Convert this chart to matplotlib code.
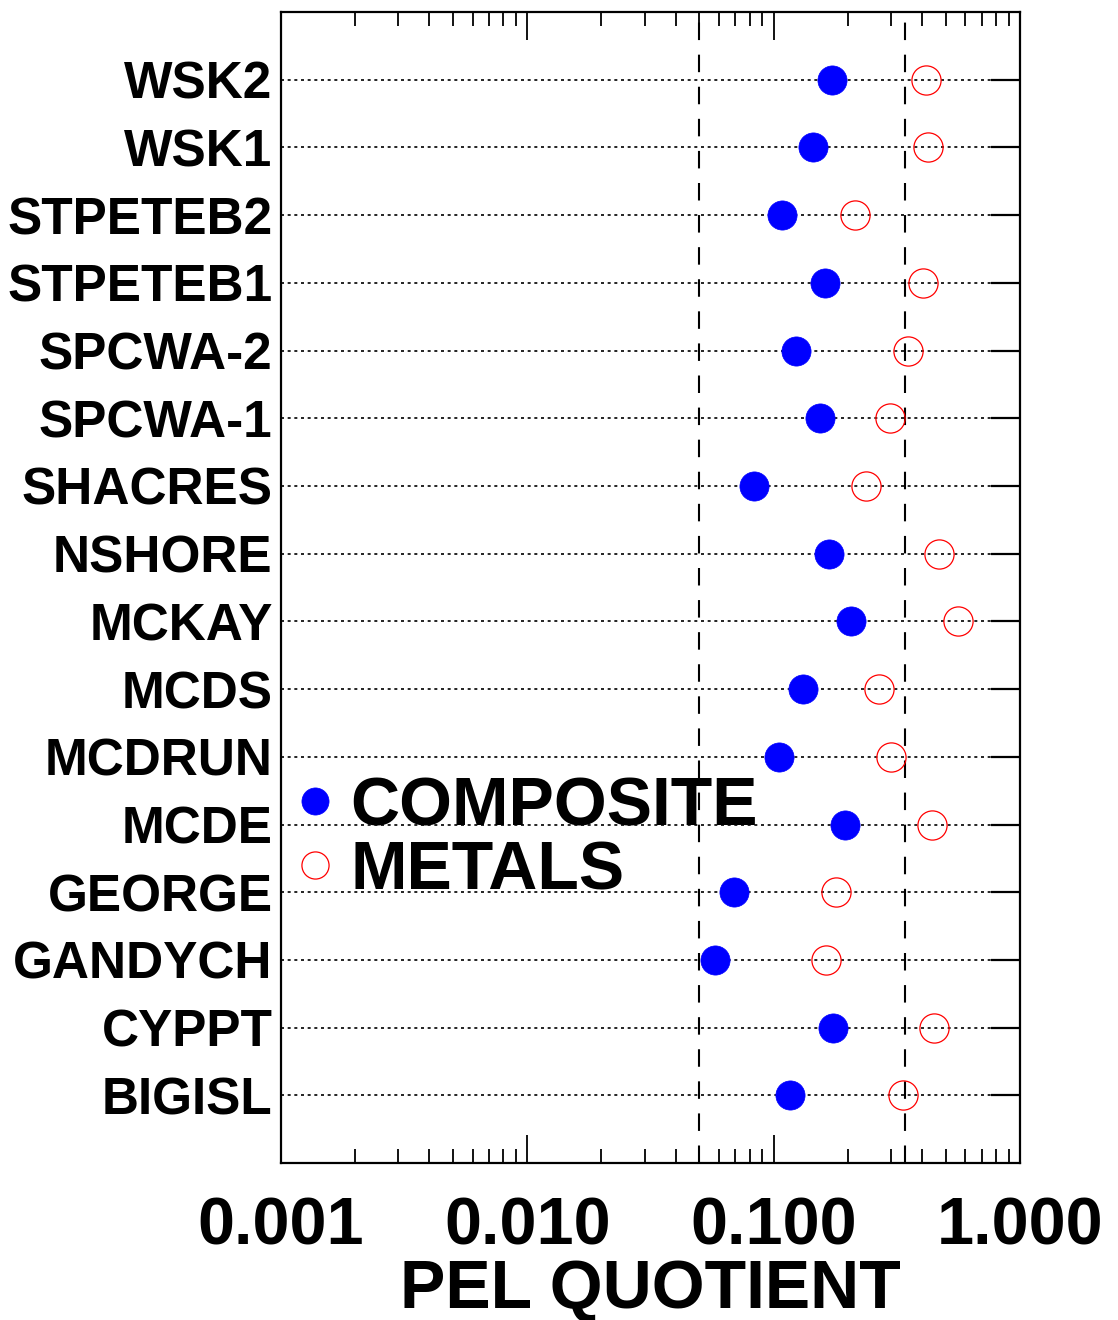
import matplotlib
matplotlib.use("Agg")
import matplotlib.pyplot as plt
from matplotlib.ticker import LogLocator, FixedLocator, NullFormatter, FixedFormatter

plt.rcParams['font.family'] = ['Liberation Sans', 'DejaVu Sans']
plt.rcParams['font.weight'] = 'bold'

# Stations, listed bottom to top
stations = ["BIGISL", "CYPPT", "GANDYCH", "GEORGE", "MCDE", "MCDRUN", "MCDS",
            "MCKAY", "NSHORE", "SHACRES", "SPCWA-1", "SPCWA-2", "STPETEB1",
            "STPETEB2", "WSK1", "WSK2"]
composite = [0.117, 0.174, 0.058, 0.069, 0.195, 0.105, 0.132,
             0.206, 0.168, 0.083, 0.154, 0.123, 0.162,
             0.108, 0.145, 0.173]
metals = [0.335, 0.448, 0.163, 0.179, 0.440, 0.300, 0.268,
          0.561, 0.470, 0.237, 0.297, 0.351, 0.404,
          0.214, 0.424, 0.416]
thresholds = [0.05, 0.34]
x_ticks = [0.001, 0.01, 0.1, 1.0]
x_tick_labels = ["0.001", "0.010", "0.100", "1.000"]

fig = plt.figure(figsize=(11.18, 13.2), dpi=100)
ax = fig.add_axes([0.2513, 0.1189, 0.6610, 0.8720])

ax.set_xscale("log")
ax.set_xlim(0.001, 1.0)
ax.set_ylim(0, len(stations) + 1)

ypos = list(range(1, len(stations) + 1))

# dotted guide line for each station
for y in ypos:
    ax.plot([0.001, 1.0], [y, y], color="black", lw=1.2,
            linestyle=(0, (1.8, 2.2)), zorder=1)

# threshold lines
for t in thresholds:
    ax.axvline(t, color="black", lw=1.5, linestyle=(0, (8.4, 7.0)), zorder=2)

ax.plot(composite, ypos, linestyle="none", marker="o", markersize=21,
        markerfacecolor="#0000ff", markeredgecolor="#0000ff", markeredgewidth=0.5,
        label="COMPOSITE", zorder=4)
ax.plot(metals, ypos, linestyle="none", marker="o", markersize=21,
        markerfacecolor="none", markeredgecolor="#ff0000", markeredgewidth=0.9,
        label="METALS", zorder=4)

# axes styling
for s in ax.spines.values():
    s.set_linewidth(1.6)
    s.set_color("black")

ax.xaxis.set_major_locator(FixedLocator(x_ticks))
ax.xaxis.set_major_formatter(FixedFormatter(x_tick_labels))
ax.xaxis.set_minor_locator(LogLocator(base=10, subs=range(2, 10)))
ax.xaxis.set_minor_formatter(NullFormatter())
ax.tick_params(axis="x", which="major", direction="in", length=20, width=1.3,
               top=True, bottom=True, labelsize=48, pad=24)
ax.tick_params(axis="x", which="minor", direction="in", length=10, width=1.3,
               top=True, bottom=True)

ax.set_yticks(ypos)
ax.set_yticklabels(stations)
ax.tick_params(axis="y", which="major", direction="in", length=21, width=1.6,
               left=False, right=True, labelleft=True, labelsize=37, pad=6)
ax.tick_params(axis="y", which="minor", left=False, right=False)

for lab in ax.get_xticklabels() + ax.get_yticklabels():
    lab.set_fontweight("bold")

ax.set_xlabel("PEL QUOTIENT", fontsize=49, fontweight="bold", labelpad=0)

leg = ax.legend(loc="upper left", bbox_to_anchor=(0.0, 0.3488), frameon=False,
                fontsize=49, handlelength=0.6, handletextpad=0.22,
                labelspacing=0.0, markerscale=0.93, borderpad=0.2,
                borderaxespad=0.0)
for txt in leg.get_texts():
    txt.set_fontweight("bold")

fig.savefig("out.png", dpi=100)
